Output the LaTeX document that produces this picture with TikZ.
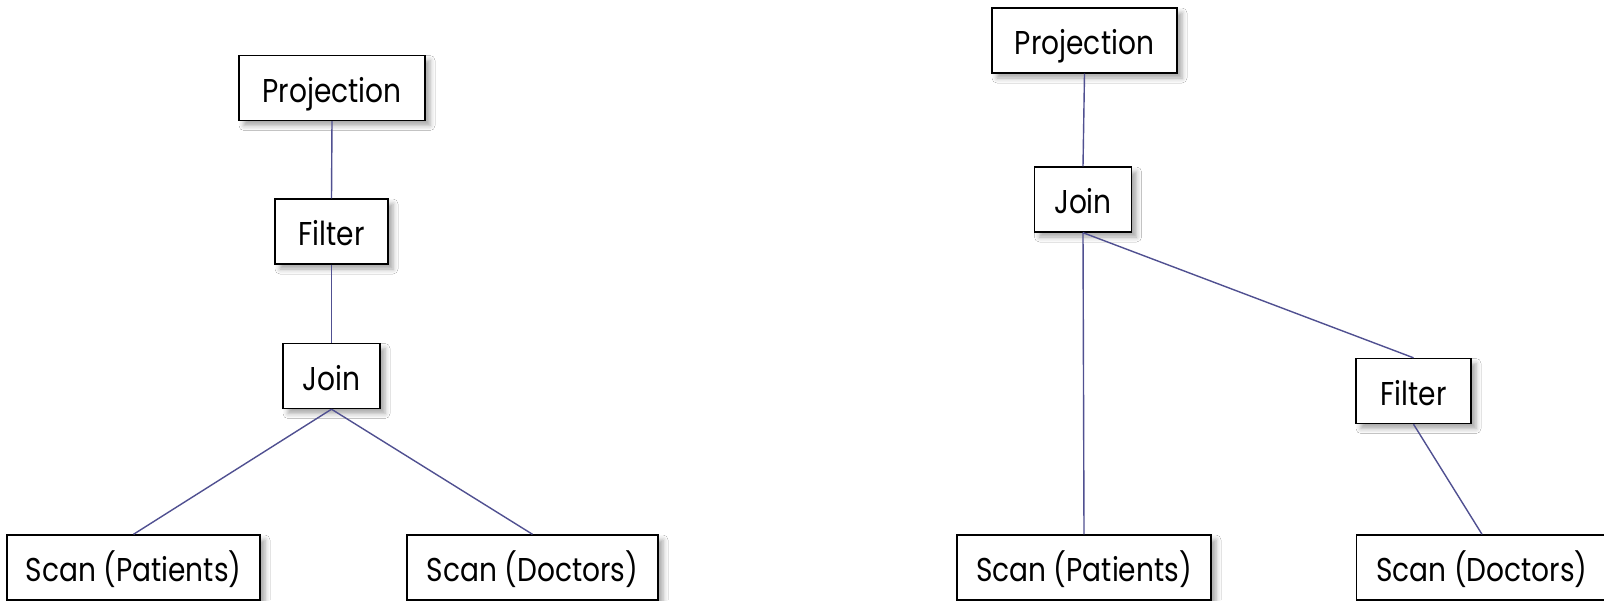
\documentclass[tikz,border=0pt]{standalone}
\usepackage{fontspec}
\setmainfont{Poppins}[FakeStretch=0.85]
\usetikzlibrary{shadows.blur}
\definecolor{linkblue}{RGB}{80,80,145}
\tikzset{
  x=1pt, y=-1pt,
  opbox/.style={draw=black, line width=1.4pt, fill=white, minimum height=65pt,
    inner sep=0pt,
    blur shadow={shadow xshift=5pt, shadow yshift=-5pt,
      shadow blur radius=5pt, shadow opacity=35}},
  optext/.style={font=\fontsize{33}{36}\selectfont, inner sep=0pt, anchor=base},
  link/.style={draw=linkblue, line width=1.4pt},
}
% operator box: name, centre x, centre y, width, label
\newcommand\opnode[5]{%
  \node[opbox, minimum width=#4] (#1) at (#2,#3) {};
  \node[optext] at ([shift={(0,14)}]#1.center) {#5};
}
\begin{document}
\begin{tikzpicture}
\useasboundingbox (0,0) rectangle (1604,600);
\clip (0,0) rectangle (1604,600);
\fill[white] (0,0) rectangle (1604,600);

% plan with the filter above the join
\opnode{P1}{332}{88}{186}{Projection}
\opnode{F1}{331.5}{231.5}{113}{Filter}
\opnode{J1}{331.5}{376}{97}{Join}
\opnode{SP1}{133.5}{567.5}{253}{Scan (Patients)}
\opnode{SD1}{532.5}{567.5}{251}{Scan (Doctors)}

% plan with the filter pushed down to the scan
\opnode{P2}{1084.5}{40.5}{185}{Projection}
\opnode{J2}{1083}{199.5}{97}{Join}
\opnode{F2}{1413.5}{391}{115}{Filter}
\opnode{SP2}{1084}{567.5}{254}{Scan (Patients)}
\opnode{SD2}{1482}{567.5}{251}{Scan (Doctors)}

\draw[link] (P1.south) -- (F1.north);
\draw[link] (F1.south) -- (J1.north);
\draw[link] (J1.south) -- (SP1.north);
\draw[link] (J1.south) -- (SD1.north);

\draw[link] (P2.south) -- (J2.north);
\draw[link] (J2.south) -- (SP2.north);
\draw[link] (J2.south) -- (F2.north);
\draw[link] (F2.south) -- (SD2.north);
\end{tikzpicture}
\end{document}
